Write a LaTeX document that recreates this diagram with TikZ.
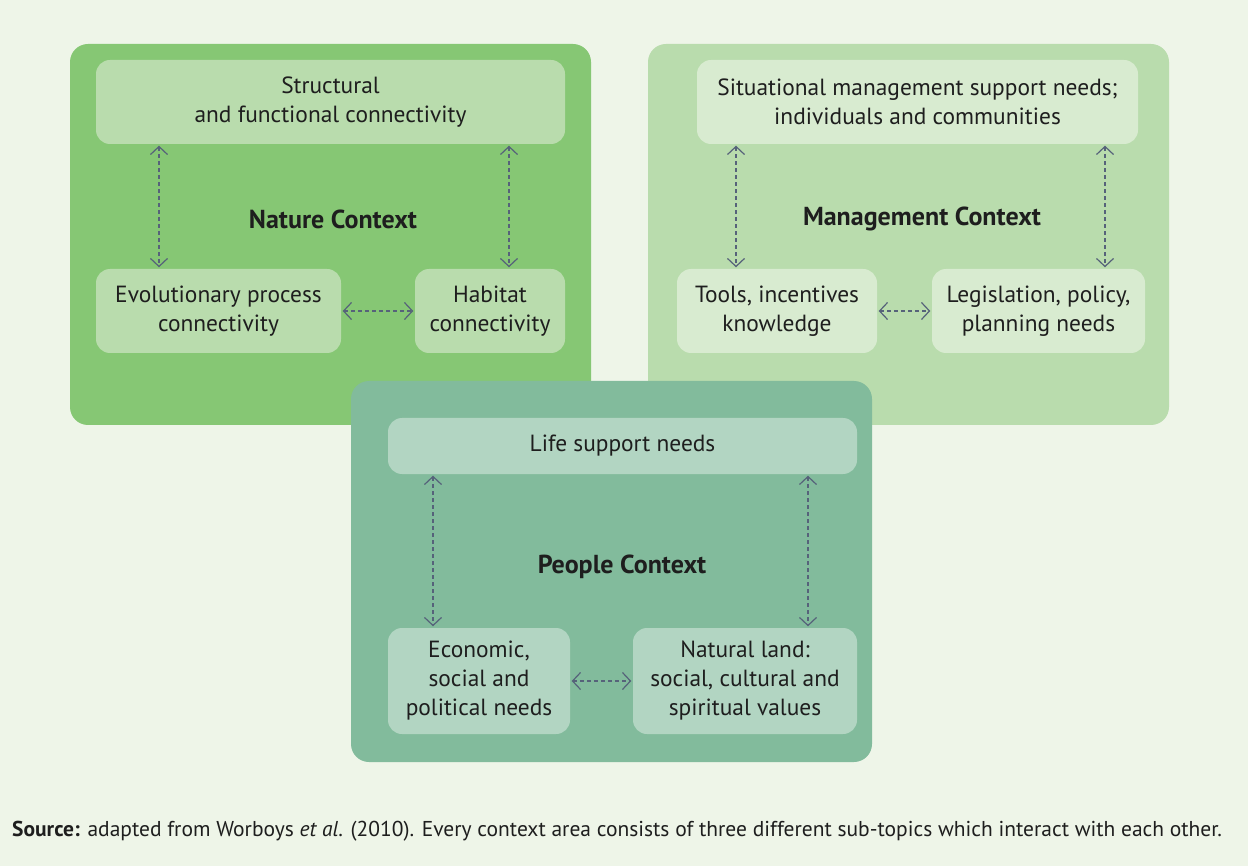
\documentclass[tikz,border=0pt]{standalone}
\usepackage{fontspec}
\setmainfont{PT Sans}
\usetikzlibrary{arrows.meta,calc}

\definecolor{pagebg}{HTML}{EEF5E8}
\definecolor{naturebg}{HTML}{86C774}
\definecolor{natureinner}{HTML}{B9DCAD}
\definecolor{managebg}{HTML}{B9DCAD}
\definecolor{manageinner}{HTML}{D8EBD0}
\definecolor{peoplebg}{HTML}{82BB9C}
\definecolor{peopleinner}{HTML}{B2D5C2}
\definecolor{arrowgray}{HTML}{56627A}
\definecolor{textdark}{HTML}{1E1E1E}

\tikzset{
  subbox/.style={rounded corners=14pt, text=textdark, align=center, inner sep=0pt,
    font=\fontsize{23.4}{29}\selectfont},
  ctxtitle/.style={text=textdark, font=\fontsize{26}{30}\selectfont\bfseries},
  link/.style={arrowgray, line width=1.2pt, dash pattern=on 4pt off 3pt,
    {Straight Barb[length=8pt,width=17pt,line width=1.2pt]}-{Straight Barb[length=8pt,width=17pt,line width=1.2pt]},
    shorten <=1.5pt, shorten >=1.5pt}
}

\begin{document}
\begin{tikzpicture}[x=1pt,y=-1pt]
  \fill[pagebg] (0,0) rectangle (1248,866);
  \useasboundingbox (0,0) rectangle (1248,866);

      \coordinate (NatA) at (70,44);
  \coordinate (NatB) at (591,425);
  \coordinate (ManA) at (648,44);
  \coordinate (ManB) at (1169,425);
  \coordinate (PeoA) at (351,381);
  \coordinate (PeoB) at (872,762);

  % nature context
  \fill[naturebg, rounded corners=18pt] (NatA) rectangle (NatB);
  \node[subbox, fill=natureinner, minimum width=469pt, minimum height=84pt] (Ntop) at (330.5,102)
    {Structural\\and functional connectivity};
  \node[subbox, fill=natureinner, minimum width=245pt, minimum height=84pt] (Nevo) at (218.5,311)
    {Evolutionary process\\connectivity};
  \node[subbox, fill=natureinner, minimum width=150pt, minimum height=84pt] (Nhab) at (490,311)
    {Habitat\\connectivity};
  \node[ctxtitle] (Ntitle) at (333,219) {Nature Context};

  \coordinate (NL) at (159,0);
  \coordinate (NR) at (509,0);
  \draw[link] (Ntop.south -| NL) -- (Nevo.north -| NL);
  \draw[link] (Ntop.south -| NR) -- (Nhab.north -| NR);
  \draw[link] (Nevo.east) -- (Nhab.west);

  % management context
  \fill[managebg, rounded corners=18pt] (ManA) rectangle (ManB);
  \node[subbox, fill=manageinner, minimum width=441pt, minimum height=84pt] (Mtop) at (917.5,102)
    {Situational management support needs;\\individuals and communities};
  \node[subbox, fill=manageinner, minimum width=200pt, minimum height=84pt] (Mtool) at (777,311)
    {Tools, incentives\\knowledge};
  \node[subbox, fill=manageinner, minimum width=213pt, minimum height=84pt] (Mleg) at (1038.5,311)
    {Legislation, policy,\\planning needs};
  \node[ctxtitle] (Mtitle) at (922,219) {Management Context};

  \coordinate (ML) at (736,0);
  \coordinate (MR) at (1105,0);
  \draw[link] (Mtop.south -| ML) -- (Mtool.north -| ML);
  \draw[link] (Mtop.south -| MR) -- (Mleg.north -| MR);
  \draw[link] (Mtool.east) -- (Mleg.west);

  % people context
  \fill[peoplebg, rounded corners=18pt] (PeoA) rectangle (PeoB);
  \node[subbox, fill=peopleinner, minimum width=469pt, minimum height=56pt] (Ptop) at (622.5,446)
    {Life support needs};
  \node[subbox, fill=peopleinner, minimum width=182pt, minimum height=106pt] (Peco) at (479,681)
    {Economic,\\social and\\political needs};
  \node[subbox, fill=peopleinner, minimum width=224pt, minimum height=106pt] (Pnat) at (745,681)
    {Natural land:\\social, cultural and\\spiritual values};
  \node[ctxtitle] (Ptitle) at (622,567) {People Context};

  \coordinate (PL) at (433,0);
  \coordinate (PR) at (808,0);
  \draw[link] (Ptop.south -| PL) -- (Peco.north -| PL);
  \draw[link] (Ptop.south -| PR) -- (Pnat.north -| PR);
  \draw[link] (Peco.east) -- (Pnat.west);

  \node[anchor=base west, inner sep=0pt, text=textdark, font=\fontsize{21.5}{24}\selectfont] (src) at (12,836)
    {\textbf{Source:} adapted from Worboys \textit{et al}. (2010). Every context area consists of three different sub-topics which interact with each other.};
\end{tikzpicture}
\end{document}
